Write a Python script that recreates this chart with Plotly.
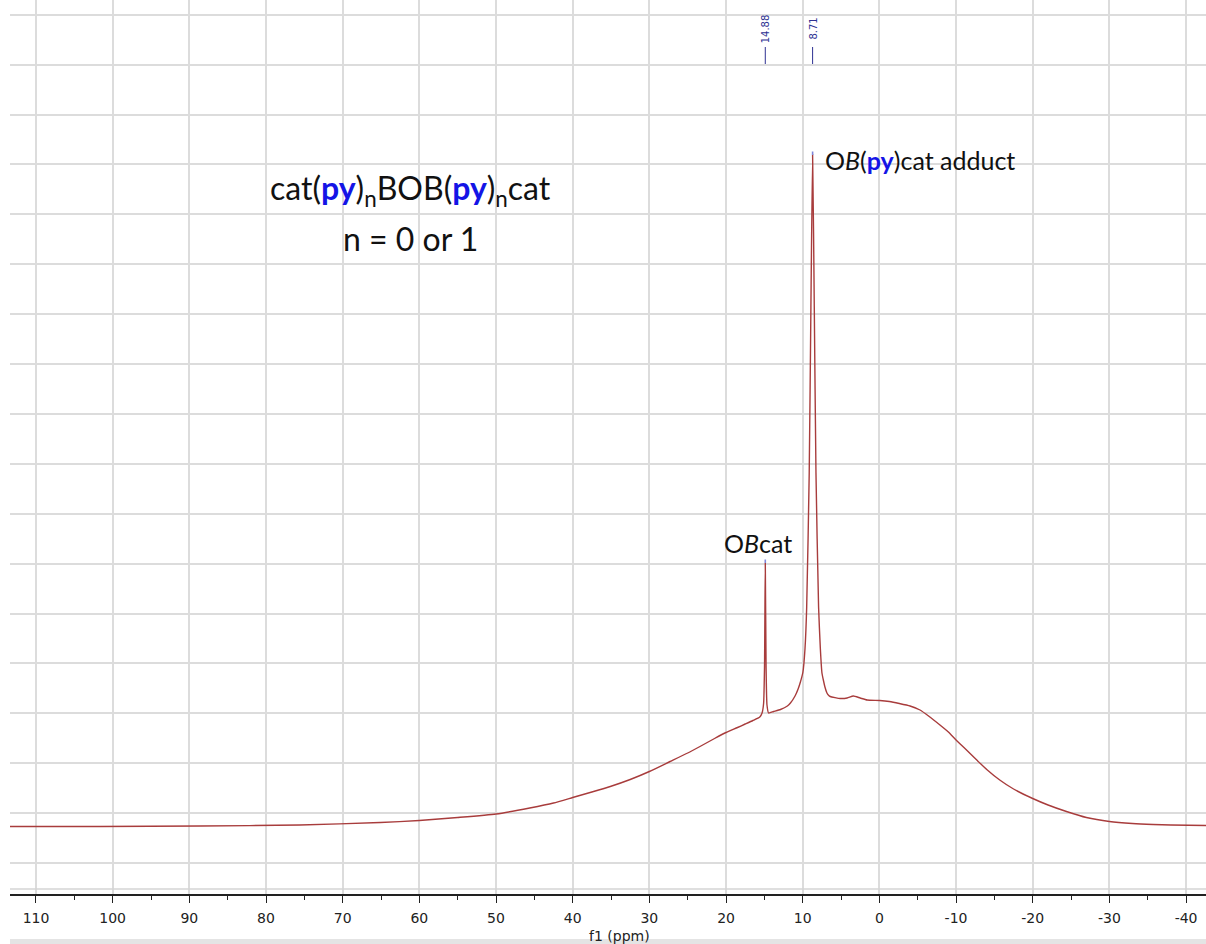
import plotly.graph_objects as go

# 11B NMR trace: chemical shift (ppm) and intensity (arbitrary units)
shift_ppm = [
    113.4, 101.65, 88.6, 75.6, 65.1, 60.0, 55.0, 50.0, 45.6, 42.5, 40.0, 37.5,
    35.1, 32.5, 30.0, 27.3, 25.0, 23.4, 21.5, 20.0, 18.5, 17.5, 16.5, 15.6,
    15.30, 15.10, 14.98, 14.88, 14.78, 14.66, 14.45,
    13.8, 12.9, 12.0, 11.6, 11.0, 10.6, 10.3, 9.97, 9.7, 9.48, 9.15, 8.93,
    8.71, 8.49, 8.27, 7.93, 7.7, 7.49, 7.28, 7.1, 6.84, 6.6, 6.41, 5.1, 4.2,
    3.4, 2.5, 1.6, -0.05, -1.3, -2.6, -4.0, -5.3, -6.5, -7.9, -9.0, -10.0,
    -11.3, -12.7, -14.0, -15.7, -17.5, -20.0, -22.0, -24.4, -27.0, -30.0,
    -33.0, -35.7, -38.0, -42.6,
]
intensity = [
    -0.01, -0.01, 0.00, 0.02, 0.07, 0.11, 0.17, 0.24, 0.36, 0.46, 0.57, 0.68,
    0.79, 0.93, 1.09, 1.29, 1.46, 1.59, 1.75, 1.87, 1.97, 2.04, 2.11, 2.18,
    2.26, 2.45, 3.20, 5.26, 3.20, 2.42, 2.26,
    2.29, 2.33, 2.40, 2.46, 2.60, 2.74, 2.88, 3.08, 3.55, 4.38, 7.06, 10.38,
    13.42, 10.38, 7.06, 4.38, 3.55, 3.06, 2.90, 2.78, 2.66, 2.61, 2.59, 2.55, 2.56,
    2.60, 2.56, 2.52, 2.51, 2.49, 2.45, 2.40, 2.32, 2.19, 2.02, 1.88, 1.72,
    1.53, 1.32, 1.13, 0.92, 0.74, 0.55, 0.42, 0.29, 0.17, 0.09,
    0.05, 0.03, 0.02, 0.01,
]

# picked peaks
peak_ppm = [14.88, 8.71]
peak_height = [5.26, 13.42]
peak_labels = ["14.88", "8.71"]

x_ticks = [110, 100, 90, 80, 70, 60, 50, 40, 30, 20, 10, 0, -10, -20, -30, -40]

PLOT_H = 894.0


def py(ypix):
    """pixel row inside the plot area -> paper coordinate"""
    return (PLOT_H - ypix) / PLOT_H


fig = go.Figure()

fig.add_trace(go.Scatter(
    x=shift_ppm, y=intensity, mode="lines",
    line=dict(color="#a83c3c", width=1.4, shape="spline", smoothing=0.5),
    hoverinfo="skip", showlegend=False,
))

# blue tips marking the picked peaks
for p, h in zip(peak_ppm, peak_height):
    fig.add_trace(go.Scatter(
        x=[p, p], y=[h, h + 0.07], mode="lines",
        line=dict(color="#7f86d8", width=1.6),
        hoverinfo="skip", showlegend=False,
    ))

shapes = []
annotations = []

# peak-pick labels along the top edge
for p, lab in zip(peak_ppm, peak_labels):
    shapes.append(dict(type="line", xref="x", yref="paper", x0=p, x1=p,
                       y0=py(64), y1=py(47), line=dict(color="#2e3192", width=1)))
    annotations.append(dict(x=p, xref="x", y=py(29), yref="paper", text=lab,
                            textangle=-90, showarrow=False, xanchor="center",
                            yanchor="middle",
                            font=dict(family="DejaVu Sans", size=10, color="#2e3192")))

blue = "color:#1414e6"
annotations += [
    dict(x=61.2, xref="x", y=py(190), yref="paper", showarrow=False,
         xanchor="center", yanchor="middle",
         text=f"cat(<b><span style='{blue}'>py</span></b>)<sub>n</sub>BOB(<b><span style='{blue}'>py</span></b>)<sub>n</sub>cat",
         font=dict(family="Lato", size=32, color="#111")),
    dict(x=61.2, xref="x", y=py(238), yref="paper", showarrow=False,
         xanchor="center", yanchor="middle", text="n = 0 or 1",
         font=dict(family="Lato", size=32, color="#111")),
    dict(x=7.35, xref="x", y=py(160), yref="paper", showarrow=False,
         xanchor="left", yanchor="middle",
         text=f"O<i>B</i>(<b><span style='{blue}'>py</span></b>)cat adduct",
         font=dict(family="Lato", size=25, color="#111")),
    dict(x=15.83, xref="x", y=py(543), yref="paper", showarrow=False,
         xanchor="center", yanchor="middle", text="O<i>B</i>cat",
         font=dict(family="Lato", size=25, color="#111")),
    dict(x=(619 - 10) / 1196, xref="paper", y=py(936), yref="paper",
         showarrow=False, xanchor="center", yanchor="middle", text="f1 (ppm)",
         font=dict(family="DejaVu Sans", size=14, color="#222")),
]

# thin frame line above the axis and the grey strip at the bottom
shapes.append(dict(type="line", xref="paper", yref="paper", x0=0, x1=1,
                   y0=py(889), y1=py(889), line=dict(color="#d4d4d4", width=1.5)))
shapes.append(dict(type="rect", xref="paper", yref="paper", x0=0, x1=1,
                   y0=py(948), y1=py(939), fillcolor="#e4e4e4", line=dict(width=0),
                   layer="above"))

fig.update_layout(
    width=1206, height=944,
    margin=dict(l=10, r=0, t=0, b=50),
    paper_bgcolor="white", plot_bgcolor="white",
    shapes=shapes, annotations=annotations,
    xaxis=dict(
        range=[113.39, -42.6], tickvals=x_ticks,
        ticktext=[str(v) for v in x_ticks],
        ticks="outside", ticklen=7, tickcolor="#222", tickwidth=1,
        ticklabelstandoff=3,
        showline=True, linecolor="#222", linewidth=1.5,
        showgrid=True, gridcolor="#dcdcdc", gridwidth=1.6,
        zeroline=False,
        minor=dict(dtick=5, tick0=0, ticks="outside", ticklen=4,
                   tickcolor="#222", showgrid=False),
        tickfont=dict(family="DejaVu Sans", size=14, color="#222"),
    ),
    yaxis=dict(
        range=[-1.36, 16.52], tick0=-0.74, dtick=0.998,
        showticklabels=False, ticks="", showline=False, zeroline=False,
        showgrid=True, gridcolor="#dcdcdc", gridwidth=1.6,
    ),
)

fig.write_html("out.html")
